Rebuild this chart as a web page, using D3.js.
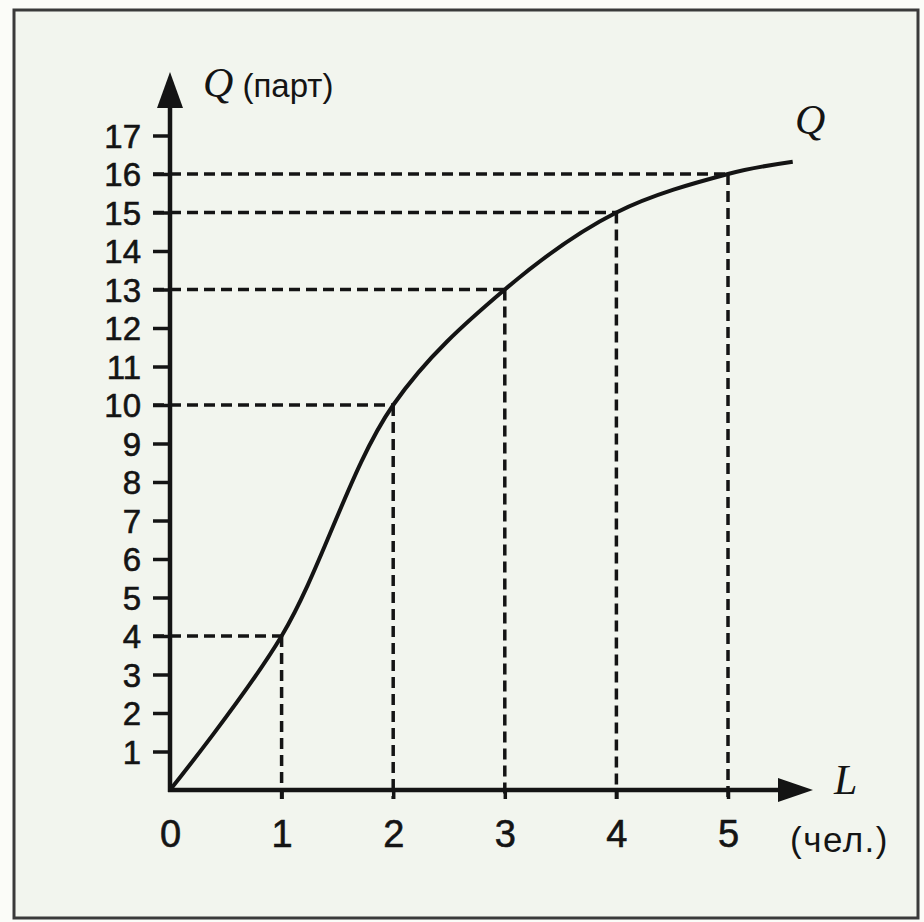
<!DOCTYPE html>
<html><head><meta charset="utf-8">
<script src="https://cdn.jsdelivr.net/npm/d3@7"></script>
<style>
html,body{margin:0;padding:0;background:#fbfcf8;}
svg{display:block;}
</style></head>
<body>
<svg id="chart" width="924" height="922"></svg>
<script>
// Data
const labour = [0, 1, 2, 3, 4, 5, 5.58];          // L (чел.)
const output = [0, 4, 10, 13, 15, 16, 16.32];     // Q (парт)
const markedL = [1, 2, 3, 4, 5];
const markedQ = [4, 10, 13, 15, 16];
const xTicks = [0, 1, 2, 3, 4, 5];
const yTicks = [1,2,3,4,5,6,7,8,9,10,11,12,13,14,15,16,17];

const svg = d3.select("#chart");
const x = d3.scaleLinear().domain([0, 5]).range([170, 728]);
const y = d3.scaleLinear().domain([0, 17]).range([790, 135.5]);

// paper + frame
svg.append("rect").attr("x",0).attr("y",0).attr("width",924).attr("height",922).attr("fill","#fbfcf8");
svg.append("rect").attr("x",14).attr("y",10).attr("width",904).attr("height",908)
  .attr("fill","#f2f5ee").attr("stroke","#3a3a3a").attr("stroke-width",3);

const ink = "#141414";

// dashed guides
const pts = markedL.map((l,i)=>({l, q: markedQ[i]}));
svg.append("g").selectAll("line.h").data(pts).join("line")
  .attr("x1", 153).attr("x2", d=>x(d.l))
  .attr("y1", d=>y(d.q)).attr("y2", d=>y(d.q))
  .attr("stroke", ink).attr("stroke-width", 3.5).attr("stroke-dasharray","11,6");
svg.append("g").selectAll("line.v").data(pts).join("line")
  .attr("x1", d=>x(d.l)).attr("x2", d=>x(d.l))
  .attr("y1", d=>y(d.q)).attr("y2", y(0)+9)
  .attr("stroke", ink).attr("stroke-width", 3.5).attr("stroke-dasharray","11,6");

// y axis ticks
const yAxis = d3.axisLeft(y).tickValues(yTicks).tickSize(17).tickPadding(12).tickFormat(d3.format("d"));
const gy = svg.append("g").attr("transform",`translate(${x(0)},0)`).call(yAxis);
gy.select(".domain").remove();
gy.selectAll(".tick line").attr("stroke", ink).attr("stroke-width", 3.5);
gy.selectAll(".tick text").attr("fill", ink).attr("stroke", ink).attr("stroke-width", 0.6)
  .style("font-family","'Liberation Sans','Arial',sans-serif")
  .style("font-size","33px").attr("dy","0.36em");

// x axis ticks
const xAxis = d3.axisBottom(x).tickValues(xTicks).tickSize(9).tickPadding(21).tickFormat(d3.format("d"));
const gx = svg.append("g").attr("transform",`translate(0,${y(0)})`).call(xAxis);
gx.select(".domain").remove();
gx.selectAll(".tick line").attr("stroke", ink).attr("stroke-width", 3.5);
gx.selectAll(".tick").filter(d=>d===0).select("line").remove();
gx.selectAll(".tick text").attr("fill", ink).attr("stroke", ink).attr("stroke-width", 0.6)
  .style("font-family","'Liberation Sans','Arial',sans-serif").style("font-size","38px");

// axis lines
svg.append("line").attr("x1",x(0)).attr("x2",x(0)).attr("y1",y(0)+2).attr("y2",100)
  .attr("stroke",ink).attr("stroke-width",4.5);
svg.append("line").attr("x1",x(0)-2).attr("x2",785).attr("y1",y(0)).attr("y2",y(0))
  .attr("stroke",ink).attr("stroke-width",4.5);
// arrowheads
svg.append("path").attr("d",`M${x(0)},72 L${x(0)-13},108 L${x(0)+13},108 Z`).attr("fill",ink);
svg.append("path").attr("d",`M813,${y(0)} L778,${y(0)-12} L778,${y(0)+12} Z`).attr("fill",ink);

// production curve
const line = d3.line().x((d,i)=>x(labour[i])).y(d=>y(d)).curve(d3.curveCatmullRom.alpha(0.5));
svg.append("path").datum(output).attr("d", line)
  .attr("fill","none").attr("stroke",ink).attr("stroke-width",4);

// labels
const serif = "'Liberation Serif','Times New Roman',serif";
const sans = "'Liberation Sans','Arial',sans-serif";
const t1 = svg.append("text").attr("x",203).attr("y",97).attr("fill",ink);
t1.append("tspan").text("Q").style("font-family",serif).style("font-style","italic").style("font-size","42px");
t1.append("tspan").text(" (парт)").style("font-family",sans).style("font-size","33px");

svg.append("text").attr("x",795).attr("y",134).text("Q").attr("fill",ink)
  .style("font-family",serif).style("font-style","italic").style("font-size","42px");
svg.append("text").attr("x",834).attr("y",794).text("L").attr("fill",ink)
  .style("font-family",serif).style("font-style","italic").style("font-size","42px");
svg.append("text").attr("x",790).attr("y",852).text("(чел.)").attr("fill",ink)
  .style("font-family",sans).style("font-size","35px").style("letter-spacing","1.5px");
</script>
</body></html>
